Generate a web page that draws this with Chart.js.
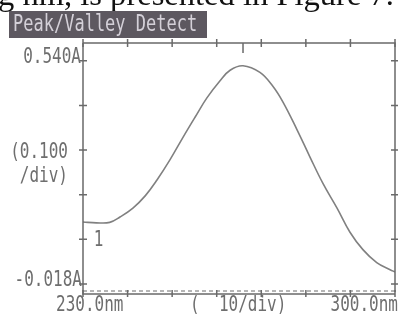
<!DOCTYPE html>
<html>
<head>
<meta charset="utf-8">
<script src="https://cdn.jsdelivr.net/npm/chart.js@4.4.0/dist/chart.umd.min.js"></script>
<style>
  html, body { margin: 0; padding: 0; background: #fff; }
  canvas { display: block; }
</style>
</head>
<body>
<canvas id="scanChart" width="398" height="323"></canvas>
<script>
// 스캔 데이터 (nm, A)
const wavelengths = [230, 233, 236, 238.3, 241.2, 244, 246.6, 249.5, 252.4, 255.1, 257.8, 260.7, 263, 265.9, 269.7, 272.6, 274.9, 278, 280.9, 283.8, 287, 289.9, 292.8, 295.9, 298.9, 300];
const absorbance = [0.139, 0.137, 0.138, 0.150, 0.170, 0.198, 0.233, 0.278, 0.328, 0.373, 0.417, 0.455, 0.479, 0.489, 0.474, 0.443, 0.407, 0.346, 0.285, 0.226, 0.170, 0.116, 0.077, 0.048, 0.032, 0.027];

// 축 범위 / 눈금
const xTicks = [230, 240, 250, 260, 270, 280, 290, 300];
const yTicks = [0.0, 0.1, 0.2, 0.3, 0.4, 0.5];
const yMin = -0.018;
const yMax = 0.540;
const peakNm = 265.9;
const valleyNm = 233.5;

// 라벨
const yTopLabel = '0.540A';
const yBottomLabel = '-0.018A';
const yDivLabel = ['(0.100', '/div)'];
const xLeftLabel = '230.0nm';
const xMidLabel = '(  10/div)';
const xRightLabel = '300.0nm';
const titleText = 'Peak/Valley Detect';
const captionText = 'g nm, is presented in Figure 7.';

const axisColor = '#6a6a6a';
const textColor = '#6e6e6e';
const mono = '"DejaVu Sans Mono", "Liberation Mono", monospace';

// 세로로 늘린 프린터 글꼴 흉내
function tallText(ctx, text, x, y, align) {
  ctx.save();
  ctx.translate(x, y);
  ctx.scale(1, 1.35);
  ctx.textAlign = align;
  ctx.textBaseline = 'middle';
  ctx.fillText(text, 0, 0);
  ctx.restore();
}

const frame = {
  id: 'frame',
  afterDraw(chart) {
    const { ctx, chartArea: a, scales: { x, y } } = chart;
    ctx.save();

    // 위쪽 본문 텍스트 (잘린 줄)
    ctx.fillStyle = '#111';
    ctx.font = '100px "Liberation Serif", serif';
    const w = ctx.measureText(captionText).width;
    const size = 100 * 396 / w;
    ctx.font = `${size}px "Liberation Serif", serif`;
    ctx.textBaseline = 'alphabetic';
    ctx.fillText(captionText, -2, 5);

    // 제목 박스
    ctx.fillStyle = '#5d5860';
    ctx.fillRect(9, 11, 198, 27);
    ctx.fillStyle = '#d4d0d8';
    ctx.font = `17px ${mono}`;
    tallText(ctx, titleText, 13, 25, 'left');

    // 테두리
    ctx.strokeStyle = axisColor;
    ctx.lineWidth = 1.5;
    ctx.beginPath();
    ctx.moveTo(a.left, a.top);
    ctx.lineTo(a.right, a.top);
    ctx.lineTo(a.right, a.bottom);
    ctx.moveTo(a.left, a.top);
    ctx.lineTo(a.left, a.bottom + 2);
    ctx.lineTo(a.right, a.bottom + 2);
    ctx.stroke();

    // 아래쪽 점선
    ctx.lineWidth = 1;
    ctx.setLineDash([4, 3]);
    ctx.beginPath();
    ctx.moveTo(a.left, a.bottom - 1);
    ctx.lineTo(a.right, a.bottom - 1);
    ctx.stroke();
    ctx.setLineDash([]);

    // 눈금
    ctx.lineWidth = 1.5;
    ctx.beginPath();
    xTicks.forEach(v => {
      const px = x.getPixelForValue(v);
      ctx.moveTo(px, a.top - 4);
      ctx.lineTo(px, a.top + 4);
      ctx.moveTo(px, a.bottom - 2);
      ctx.lineTo(px, a.bottom + 5);
    });
    yTicks.forEach(v => {
      const py = y.getPixelForValue(v);
      ctx.moveTo(a.left - 4, py);
      ctx.lineTo(a.left + 4, py);
      ctx.moveTo(a.right - 4, py);
      ctx.lineTo(a.right + 3, py);
    });
    // 피크 표시
    const pk = x.getPixelForValue(peakNm);
    ctx.moveTo(pk, a.top);
    ctx.lineTo(pk, a.top + 10);
    ctx.stroke();

    // 축 라벨
    ctx.fillStyle = textColor;
    ctx.font = `16px ${mono}`;
    tallText(ctx, yTopLabel, a.left - 2, 57, 'right');
    tallText(ctx, yDivLabel[0], 68, 152, 'right');
    tallText(ctx, yDivLabel[1], 68, 176, 'right');
    tallText(ctx, yBottomLabel, a.left - 1, 280, 'right');

    tallText(ctx, xLeftLabel, 56, 305, 'left');
    tallText(ctx, xMidLabel, 190, 305, 'left');
    tallText(ctx, xRightLabel, 398, 305, 'right');

    // 밸리 표시
    tallText(ctx, '1', x.getPixelForValue(valleyNm), 240, 'center');

    ctx.restore();
  }
};

new Chart(document.getElementById('scanChart').getContext('2d'), {
  type: 'line',
  data: {
    datasets: [{
      data: wavelengths.map((nm, i) => ({ x: nm, y: absorbance[i] })),
      borderColor: '#808080',
      borderWidth: 1.6,
      pointRadius: 0,
      tension: 0.4,
      fill: false
    }]
  },
  options: {
    responsive: false,
    animation: false,
    layout: { padding: { left: 83, top: 43, right: 3, bottom: 31 } },
    plugins: { legend: { display: false }, tooltip: { enabled: false } },
    scales: {
      x: { type: 'linear', min: 230, max: 300, display: false },
      y: { min: yMin, max: yMax, display: false }
    }
  },
  plugins: [frame]
});
</script>
</body>
</html>
